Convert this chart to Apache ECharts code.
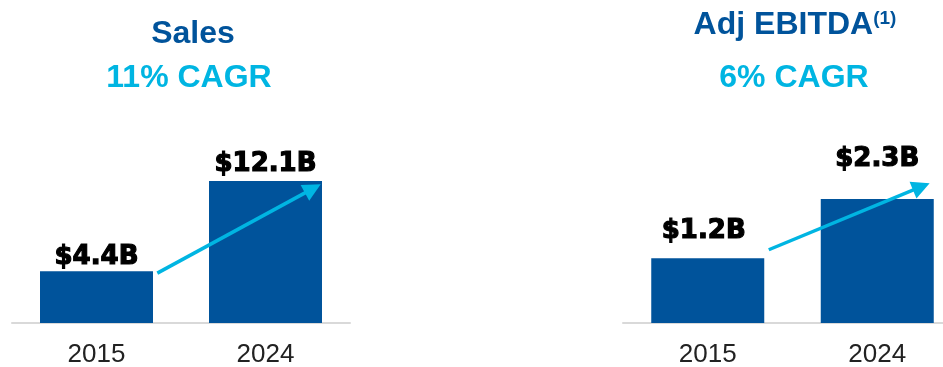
<!DOCTYPE html>
<html><head><meta charset="utf-8">
<script src="https://cdn.jsdelivr.net/npm/echarts@6/dist/echarts.min.js"></script>
<style>html,body{margin:0;padding:0;background:#fff}#c{width:943px;height:367px}</style>
</head><body><div id="c"></div>
<script>
// ---- data ----
const years = ['2015', '2024'];
const salesValues = [4.4, 12.1];
const salesLabels = ['$4.4B', '$12.1B'];
const ebitdaValues = [1.2, 2.3];
const ebitdaLabels = ['$1.2B', '$2.3B'];
// CAGR arrows in data space: [categoryPosition, value]
const salesArrow = [[0.36, 4.25], [1.28, 11.45]];
const ebitdaArrow = [[0.36, 1.36], [1.26, 2.53]];
const titles = ['Sales', '11% CAGR', 'Adj EBITDA', '(1)', '6% CAGR'];

// ---- styles ----
const BAR = '#00539B';
const CYAN = '#00B5E2';
const labelFont = {fontFamily: 'DejaVu Sans', fontWeight: 'bold', fontSize: 26, color: '#000',
  textBorderColor: '#000', textBorderWidth: 1.2};
const salesDist = [1, 4];
const ebitdaDist = [14, 27];
const ebitdaOffsetX = [-4, 0];

const chart = echarts.init(document.getElementById('c'));
const catAxis = (g) => ({
  gridIndex: g, type: 'category', data: years,
  axisLine: {lineStyle: {color: '#D9D9D9', width: 2}},
  axisTick: {show: false},
  axisLabel: {fontSize: 26, color: '#222', margin: 19, fontFamily: 'Liberation Sans'}
});
const barSeries = (xi, yi, values, labels, dist, offX) => ({
  type: 'bar', xAxisIndex: xi, yAxisIndex: yi, barWidth: 113,
  itemStyle: {color: BAR},
  data: values.map((v, i) => ({value: v, label: {distance: dist[i], offset: [offX ? offX[i] : 0, 0]}})),
  label: Object.assign({show: true, position: 'top', formatter: p => labels[p.dataIndex]}, labelFont)
});
const arrowSeries = (xi, yi, pts) => ({
  type: 'lines', coordinateSystem: 'cartesian2d', xAxisIndex: xi, yAxisIndex: yi, z: 5,
  symbol: ['none', 'triangle'], symbolSize: 18,
  lineStyle: {color: CYAN, width: 3.5, opacity: 1, curveness: 0},
  data: [{coords: pts}]
});
const titleFont = {fontFamily: 'Liberation Sans', fontWeight: 'bold', fontSize: 32};

chart.setOption({
  animation: false,
  backgroundColor: '#fff',
  title: [
    {text: titles[0], left: 188, top: 13, textAlign: 'center', textStyle: Object.assign({color: BAR}, titleFont)},
    {text: titles[1], left: 184, top: 57, textAlign: 'center', textStyle: Object.assign({color: CYAN}, titleFont)},
    {text: '{a|' + titles[2] + '}{s|' + titles[3] + '}', left: 790, top: 4, textAlign: 'center',
     textStyle: {rich: {a: Object.assign({color: BAR}, titleFont), s: {color: BAR, fontFamily: 'Liberation Sans', fontWeight: 'bold', fontSize: 19, verticalAlign: 'top', padding: [0, 0, 12, 0]}}}},
    {text: titles[4], left: 789, top: 57, textAlign: 'center', textStyle: Object.assign({color: CYAN}, titleFont)}
  ],
  grid: [
    {left: 12, width: 338, top: 100, bottom: 44, outerBoundsMode: 'none', containLabel: false},
    {left: 623, width: 339, top: 100, bottom: 44, outerBoundsMode: 'none', containLabel: false}
  ],
  xAxis: [
    catAxis(0), catAxis(1),
    {gridIndex: 0, type: 'value', min: -0.5, max: 1.5, show: false},
    {gridIndex: 1, type: 'value', min: -0.5, max: 1.5, show: false}
  ],
  yAxis: [
    {gridIndex: 0, type: 'value', min: 0, max: 19, show: false},
    {gridIndex: 1, type: 'value', min: 0, max: 4.14, show: false}
  ],
  series: [
    barSeries(0, 0, salesValues, salesLabels, salesDist),
    barSeries(1, 1, ebitdaValues, ebitdaLabels, ebitdaDist, ebitdaOffsetX),
    arrowSeries(2, 0, salesArrow),
    arrowSeries(3, 1, ebitdaArrow)
  ]
});
</script></body></html>
